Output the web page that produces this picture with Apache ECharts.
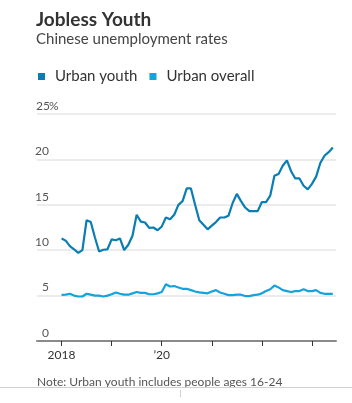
<!DOCTYPE html>
<html>
<head>
<meta charset="utf-8">
<script src="https://cdn.jsdelivr.net/npm/echarts@6/dist/echarts.min.js"></script>
<style>
html,body{margin:0;padding:0;background:#fff;}
#c{width:352px;height:403px;}
</style>
</head>
<body>
<div id="c"></div>
<script>
// Monthly data, Jan 2018 – Jun 2023
const startYear = 2018;
const seriesNames = ['Urban youth', 'Urban overall'];
const youth = [
  11.3, 11.05, 10.45, 10.1, 9.7, 10.0, 13.3, 13.1, 11.4, 9.85, 10.05, 10.1,
  11.2, 11.1, 11.3, 10.0, 10.6, 11.6, 13.9, 13.15, 13.05, 12.45, 12.5, 12.2,
  12.6, 13.6, 13.4, 13.9, 15.0, 15.4, 16.8, 16.8, 15.0, 13.3, 12.8, 12.3,
  12.7, 13.1, 13.6, 13.6, 13.8, 15.2, 16.2, 15.4, 14.7, 14.3, 14.3, 14.3,
  15.3, 15.3, 16.0, 18.2, 18.4, 19.3, 19.9, 18.7, 17.9, 17.9, 17.1, 16.7,
  17.3, 18.1, 19.6, 20.4, 20.8, 21.3
];
const overall = [
  5.07, 5.1, 5.2, 5.0, 4.9, 4.9, 5.2, 5.1, 5.0, 5.0, 4.9, 5.0,
  5.15, 5.35, 5.2, 5.1, 5.1, 5.25, 5.4, 5.3, 5.3, 5.15, 5.15, 5.25,
  5.4, 6.25, 6.0, 6.05, 5.9, 5.75, 5.75, 5.6, 5.45, 5.35, 5.3, 5.25,
  5.45, 5.6, 5.35, 5.2, 5.05, 5.05, 5.1, 5.1, 4.95, 4.95, 5.05, 5.1,
  5.25, 5.5, 5.7, 6.1, 5.9, 5.6, 5.5, 5.4, 5.5, 5.5, 5.7, 5.5,
  5.5, 5.6, 5.3, 5.2, 5.2, 5.2
];
const tickYears = [2018, 2019, 2020, 2021, 2022, 2023];
const labelYears = [2018, 2020];
const yTicks = [0, 5, 10, 15, 20, 25];

const FONT = 'Lato, "Noto Sans", sans-serif';
const toPairs = arr => arr.map((v, i) => [startYear + i / 12, v]);

const chart = echarts.init(document.getElementById('c'), null, {renderer: 'canvas'});
chart.setOption({
  animation: false,
  backgroundColor: '#fff',
  textStyle: {fontFamily: FONT},
  title: {
    text: 'Jobless Youth',
    subtext: 'Chinese unemployment rates',
    left: 36, top: 10, padding: 0,
    itemGap: 3,
    textStyle: {fontFamily: FONT, fontSize: 19, fontWeight: 'bold', color: '#333'},
    subtextStyle: {fontFamily: FONT, fontSize: 15, color: '#444'}
  },
  legend: {
    left: 38, top: 69, padding: 0,
    icon: 'rect', itemWidth: 7, itemHeight: 7, itemGap: 12,
    textStyle: {fontFamily: FONT, fontSize: 15, color: '#333', padding: [0, 0, 0, 5]},
    data: seriesNames
  },
  grid: {left: 37, right: 16, top: 114, bottom: 62},
  xAxis: {
    type: 'value',
    min: 2017.51, max: 2023.48,
    axisLine: {show: true, onZero: true, lineStyle: {color: '#8a8a8a', width: 2}},
    axisTick: {show: true, customValues: tickYears, length: 5, lineStyle: {color: '#333', width: 1}},
    axisLabel: {
      customValues: labelYears, margin: 8,
      fontFamily: FONT, fontSize: 12, color: '#333',
      formatter: v => v === startYear ? String(v) : '\u2019' + String(v).slice(2)
    },
    splitLine: {show: false}
  },
  yAxis: {
    type: 'value', min: 0, max: 25, interval: 5,
    axisLine: {show: false}, axisTick: {show: false},
    splitLine: {lineStyle: {color: '#ececec', width: 2}},
    axisLabel: {
      inside: true, margin: 0, verticalAlign: 'bottom',
      padding: [0, 0, 2, 0],
      formatter: v => v === yTicks[yTicks.length - 1] ? '{n|' + v + '}{p|%}' : '{n|' + v + '}',
      rich: {
        n: {width: 12, align: 'right', fontFamily: FONT, fontSize: 12, color: '#555'},
        p: {fontFamily: FONT, fontSize: 12, color: '#555'}
      }
    }
  },
  series: [
    {name: seriesNames[0], type: 'line', data: toPairs(youth), showSymbol: false,
     lineStyle: {color: '#0a7db3', width: 2.2}, itemStyle: {color: '#0a7db3'}, z: 3},
    {name: seriesNames[1], type: 'line', data: toPairs(overall), showSymbol: false,
     lineStyle: {color: '#14a3dc', width: 2.2}, itemStyle: {color: '#14a3dc'}, z: 2}
  ],
  graphic: [
    {type: 'text', left: 37, top: 376, z: 10,
     style: {text: 'Note: Urban youth includes people ages 16-24', fontFamily: FONT, fontSize: 12, fill: '#555'}},
    {type: 'rect', left: 0, top: 387, z: 11, shape: {width: 352, height: 16}, style: {fill: '#fff'}},
    {type: 'line', z: 12, shape: {x1: 0, y1: 387.5, x2: 352, y2: 387.5}, style: {stroke: '#d0d0d0', lineWidth: 1}},
    {type: 'line', z: 12, shape: {x1: 180.5, y1: 390, x2: 180.5, y2: 397}, style: {stroke: '#d0d0d0', lineWidth: 1}}
  ]
});
</script>
</body>
</html>
